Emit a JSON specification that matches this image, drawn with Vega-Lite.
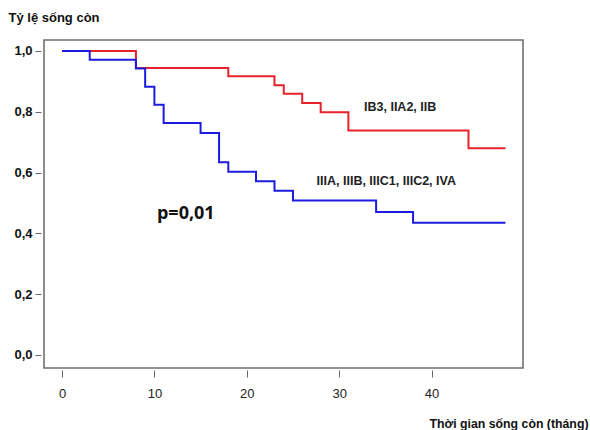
{
  "$schema": "https://vega.github.io/schema/vega-lite/v6.json",
  "autosize": {"type": "none"},
  "width": 479,
  "height": 328,
  "padding": {"left": 44, "top": 40, "right": 67, "bottom": 62},
  "background": "white",
  "config": {
    "view": {"stroke": "#707070", "strokeWidth": 1.6},
    "font": "Liberation Sans"
  },
  "datasets": {
    "curves": [
      {"t": 0, "s": 1.0, "g": "IB3, IIA2, IIB"},
      {"t": 8, "s": 0.944, "g": "IB3, IIA2, IIB"},
      {"t": 18, "s": 0.917, "g": "IB3, IIA2, IIB"},
      {"t": 23, "s": 0.887, "g": "IB3, IIA2, IIB"},
      {"t": 24, "s": 0.859, "g": "IB3, IIA2, IIB"},
      {"t": 26, "s": 0.829, "g": "IB3, IIA2, IIB"},
      {"t": 28, "s": 0.798, "g": "IB3, IIA2, IIB"},
      {"t": 31, "s": 0.738, "g": "IB3, IIA2, IIB"},
      {"t": 44, "s": 0.680, "g": "IB3, IIA2, IIB"},
      {"t": 48, "s": 0.680, "g": "IB3, IIA2, IIB"},
      {"t": 0, "s": 1.0, "g": "IIIA, IIIB, IIIC1, IIIC2, IVA"},
      {"t": 3, "s": 0.971, "g": "IIIA, IIIB, IIIC1, IIIC2, IVA"},
      {"t": 8, "s": 0.942, "g": "IIIA, IIIB, IIIC1, IIIC2, IVA"},
      {"t": 9, "s": 0.882, "g": "IIIA, IIIB, IIIC1, IIIC2, IVA"},
      {"t": 10, "s": 0.823, "g": "IIIA, IIIB, IIIC1, IIIC2, IVA"},
      {"t": 11, "s": 0.763, "g": "IIIA, IIIB, IIIC1, IIIC2, IVA"},
      {"t": 15, "s": 0.730, "g": "IIIA, IIIB, IIIC1, IIIC2, IVA"},
      {"t": 17, "s": 0.634, "g": "IIIA, IIIB, IIIC1, IIIC2, IVA"},
      {"t": 18, "s": 0.603, "g": "IIIA, IIIB, IIIC1, IIIC2, IVA"},
      {"t": 21, "s": 0.571, "g": "IIIA, IIIB, IIIC1, IIIC2, IVA"},
      {"t": 23, "s": 0.540, "g": "IIIA, IIIB, IIIC1, IIIC2, IVA"},
      {"t": 25, "s": 0.508, "g": "IIIA, IIIB, IIIC1, IIIC2, IVA"},
      {"t": 34, "s": 0.470, "g": "IIIA, IIIB, IIIC1, IIIC2, IVA"},
      {"t": 38, "s": 0.435, "g": "IIIA, IIIB, IIIC1, IIIC2, IVA"},
      {"t": 48, "s": 0.435, "g": "IIIA, IIIB, IIIC1, IIIC2, IVA"}
    ],
    "labels": [
      {"t": 36.6, "s": 0.814, "label": "IB3, IIA2, IIB"},
      {"t": 35.1, "s": 0.571, "label": "IIIA, IIIB, IIIC1, IIIC2, IVA"}
    ],
    "pval": [
      {"t": 13.4, "s": 0.465, "label": "p=0,01"}
    ]
  },
  "layer": [
    {
      "data": {"name": "curves"},
      "mark": {"type": "line", "interpolate": "step-after", "strokeWidth": 2},
      "encoding": {
        "x": {
          "field": "t", "type": "quantitative",
          "scale": {"domain": [-1.95, 49.9], "nice": false, "zero": false},
          "axis": {
            "title": "Thời gian sống còn (tháng)",
            "values": [0, 10, 20, 30, 40],
            "domain": false, "grid": false,
            "offset": 2, "tickSize": 7, "tickColor": "#666", "tickWidth": 1,
            "labelFont": "Liberation Sans", "labelFontSize": 13, "labelColor": "#222",
            "labelPadding": 10,
            "titleFont": "Liberation Sans", "titleFontSize": 12.3, "titleFontWeight": "bold", "titleColor": "#111",
            "titleAnchor": null, "titleAlign": "right", "titleBaseline": "middle",
            "titleX": 544, "titleY": 53
          }
        },
        "y": {
          "field": "s", "type": "quantitative",
          "scale": {"domain": [-0.043, 1.036], "nice": false, "zero": false},
          "axis": {
            "title": "Tỷ lệ sống còn",
            "values": [0, 0.2, 0.4, 0.6, 0.8, 1.0],
            "labelExpr": "replace(format(datum.value, '.1f'), '.', ',')",
            "domain": false, "grid": false,
            "offset": 3, "tickSize": 6, "tickColor": "#666", "tickWidth": 1,
            "labelFont": "Liberation Sans", "labelFontSize": 13, "labelFontWeight": "bold", "labelColor": "#111",
            "labelPadding": 3,
            "titleFont": "Liberation Sans", "titleFontSize": 13, "titleFontWeight": "bold", "titleColor": "#111",
            "titleAngle": 0, "titleAnchor": null, "titleAlign": "left", "titleBaseline": "middle",
            "titleX": -33, "titleY": -23
          }
        },
        "color": {
          "field": "g", "type": "nominal",
          "scale": {"domain": ["IB3, IIA2, IIB", "IIIA, IIIB, IIIC1, IIIC2, IVA"], "range": ["#e8222a", "#1c1ce0"]},
          "legend": null
        }
      }
    },
    {
      "data": {"name": "labels"},
      "mark": {"type": "text", "font": "Liberation Sans", "fontSize": 12.5, "fontWeight": "bold", "color": "#222", "align": "center", "baseline": "middle"},
      "encoding": {
        "x": {"field": "t", "type": "quantitative"},
        "y": {"field": "s", "type": "quantitative"},
        "text": {"field": "label"}
      }
    },
    {
      "data": {"name": "pval"},
      "mark": {"type": "text", "font": "Open Sans", "fontSize": 18, "fontWeight": "bold", "color": "#111", "align": "center", "baseline": "middle"},
      "encoding": {
        "x": {"field": "t", "type": "quantitative"},
        "y": {"field": "s", "type": "quantitative"},
        "text": {"field": "label"}
      }
    }
  ]
}
